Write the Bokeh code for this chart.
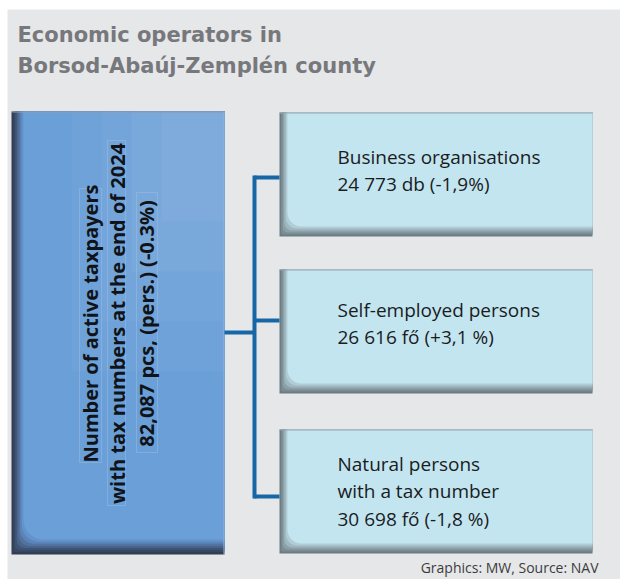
import math
from bokeh.plotting import figure
from bokeh.models import Range1d
from bokeh.core.properties import value
from bokeh.embed import file_html
from bokeh.resources import INLINE

# ---- content / data ----
title_lines = ["Economic operators in", "Borsod-Abaúj-Zemplén county"]
total_lines = ["Number of active taxpayers",
               "with tax numbers at the end of 2024",
               "82,087 pcs, (pers.) (-0.3%)"]
category_lines = [["Business organisations", "24 773 db (-1,9%)"],
                  ["Self-employed persons", "26 616 fő (+3,1 %)"],
                  ["Natural persons", "with a tax number", "30 698 fő  (-1,8 %)"]]
source_text = "Graphics: MW, Source: NAV"

# ---- layout (screen pixel coordinates, y downward) ----
W, H = 620, 579
p = figure(width=W, height=H, x_range=Range1d(0, W), y_range=Range1d(H, 0),
           output_backend="svg", toolbar_location=None, min_border=0)
p.axis.visible = False
p.grid.visible = False
p.outline_line_color = None
p.background_fill_color = "white"
p.border_fill_color = "white"

# panel
p.quad(left=7, right=W + 5, top=9, bottom=H + 5, fill_color="#e6e7e9", line_color=None)

def bevel(x0, x1, y0, y1, edge_cols, main_col, inl, inb, radius):
    n = len(edge_cols)
    for i, c in enumerate(edge_cols):
        f = i / n
        p.quad(left=x0 + inl * f, right=x1, top=y0, bottom=y1 - inb * f,
               fill_color=c, line_color=None,
               border_radius=(0, 0, 0, int(radius * f)))
    p.quad(left=x0 + inl, right=x1, top=y0, bottom=y1 - inb,
           fill_color=main_col, line_color=None, border_radius=(0, 0, 0, radius))

# big blue box
bx0, bx1, by0, by1 = 11, 224, 111, 554
bevel(bx0, bx1, by0, by1,
      ["#303d53", "#364762", "#3e5273", "#486288", "#52729f", "#5c84b9", "#6393cb"],
      "#6a9fd8", 12, 15, 20)
# subtle lighter upper-right area
for i, a in enumerate([0.04, 0.04, 0.04, 0.04]):
    p.quad(left=bx0 + 60 + i * 30, right=bx1, top=by0, bottom=by0 + 260 - i * 50,
           fill_color="white", fill_alpha=a, line_color=None)
p.segment(x0=bx0, y0=by0 + 0.5, x1=bx1, y1=by0 + 0.5, line_color="#8e9bb0", line_width=1)
p.segment(x0=bx1 - 0.5, y0=by0, x1=bx1 - 0.5, y1=by1, line_color="#93b4de", line_width=1)

# faint frames around the vertical text lines
p.quad(left=[79, 107, 136], right=[101, 125, 157], top=[188, 140, 192],
       bottom=[462, 505, 452], fill_color=None, line_color="#a9c4e6",
       line_alpha=0.4, line_width=1)

# right light boxes
boxes = [(279, 592, 112, 236), (279, 592, 269, 393), (279, 592, 429, 553)]
for (x0, x1, y0, y1) in boxes:
    bevel(x0, x1, y0, y1,
          ["#6b7c83", "#7a8d94", "#8ba0a7", "#9fb7be", "#b2ccd5"],
          "#c3e5f0", 8, 10, 14)
    p.segment(x0=x0, y0=y0 + 0.5, x1=x1, y1=y0 + 0.5, line_color="#98a6ab", line_width=1.2)

# connectors
blue = "#1767a6"
mid_y = [177, 320, 496]
vx = 254
p.segment(x0=bx1, y0=332, x1=vx, y1=332, line_color=blue, line_width=4)
p.segment(x0=vx, y0=mid_y[0] - 2, x1=vx, y1=mid_y[-1] + 2, line_color=blue, line_width=4)
for y in mid_y:
    p.segment(x0=vx, y0=y, x1=279, y1=y, line_color=blue, line_width=4)

# title
for i, t in enumerate(title_lines):
    p.text(x=[17], y=[34.5 + 31 * i], text=[t], text_font=value("DejaVu Sans"),
           text_font_style="bold", text_font_size="21px", text_color="#77787c",
           text_baseline="alphabetic", text_align="left")

# vertical text in blue box
vxs = [90, 117, 146]
for i, t in enumerate(total_lines):
    p.text(x=[vxs[i]], y=[323], text=[t], angle=math.pi / 2,
           text_font=value("Open Sans"), text_font_style="bold", text_font_size="20px",
           text_color="#101418", text_baseline="middle", text_align="center")

# category texts
base_y = [[156.5, 183], [309.5, 336], [463, 490.5, 518]]
for lines, ys in zip(category_lines, base_y):
    for t, y in zip(lines, ys):
        p.text(x=[337], y=[y], text=[t], text_font=value("Open Sans"),
               text_font_size="19px", text_color="#1a1c1e",
               text_baseline="alphabetic", text_align="left")

# source
p.text(x=[598], y=[567], text=[source_text], text_font=value("Open Sans"),
       text_font_size="14px", text_color="#3c3c3c", text_baseline="alphabetic",
       text_align="right")

open("out.html", "w").write(file_html(p, INLINE))
